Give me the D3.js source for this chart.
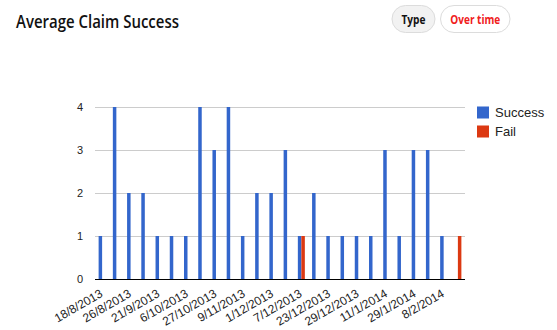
<!DOCTYPE html>
<html><head><meta charset="utf-8">
<script src="https://cdn.jsdelivr.net/npm/d3@7"></script>
<style>body{margin:0;background:#fff;}svg{display:block;}</style>
</head><body>
<svg id="c" width="557" height="330"></svg>
<script>
const categories = ["18/8/2013","22/8/2013","26/8/2013","15/9/2013","21/9/2013","29/9/2013","6/10/2013","20/10/2013","27/10/2013","3/11/2013","9/11/2013","24/11/2013","1/12/2013","4/12/2013","7/12/2013","15/12/2013","23/12/2013","27/12/2013","29/12/2013","5/1/2014","11/1/2014","19/1/2014","29/1/2014","2/2/2014","8/2/2014","16/2/2014"];
const successValues = [1,4,2,2,1,1,1,4,3,4,1,2,2,3,1,2,1,1,1,1,3,1,3,3,1,0];
const failValues    = [0,0,0,0,0,0,0,0,0,0,0,0,0,0,1,0,0,0,0,0,0,0,0,0,0,1];
const seriesNames = ["Success","Fail"];
const yTicks = [0,1,2,3,4];

const colors = ["#3366cc","#dc3912"];
const svg = d3.select("#c");

// title
svg.append("text").attr("x",16).attr("y",27.5)
  .attr("font-family","'Open Sans', sans-serif").attr("font-weight",600)
  .attr("font-size",17.5).attr("fill","#111")
  .attr("textLength",163).attr("lengthAdjust","spacingAndGlyphs")
  .text("Average Claim Success");

// buttons
function pill(x,y,w,h,label,fill,color,tl){
  svg.append("rect").attr("x",x).attr("y",y).attr("width",w).attr("height",h)
    .attr("rx",h/2).attr("fill",fill).attr("stroke","#dcdcdc");
  svg.append("text").attr("x",x+w/2-tl/2).attr("y",y+h/2+4.5)
    .attr("font-family","'Open Sans', sans-serif").attr("font-weight",700)
    .attr("font-size",13).attr("fill",color)
    .attr("textLength",tl).attr("lengthAdjust","spacingAndGlyphs").text(label);
}
pill(392,5.5,43,27,"Type","#f2f2f2","#111",24);
pill(440.5,5.5,69.5,27,"Over time","#fff","#f0201c",50);

const x0 = d3.scaleBand().domain(categories).range([95,465]);
const x1 = d3.scaleBand().domain(seriesNames).range([x0.bandwidth()/2-3.5, x0.bandwidth()/2+3.5]);
const y = d3.scaleLinear().domain([0,4]).range([279,107]);

// gridlines
svg.append("g").selectAll("line").data(yTicks.filter(d=>d>0)).join("line")
  .attr("x1",95).attr("x2",465).attr("y1",d=>y(d)+0.5).attr("y2",d=>y(d)+0.5)
  .attr("stroke","#cccccc");

// y labels
const yAxis = d3.axisLeft(y).tickValues(yTicks).tickSize(0).tickPadding(0).tickFormat(d3.format("d"));
const ga = svg.append("g").attr("transform","translate(83,0)").call(yAxis);
ga.select(".domain").remove();
ga.selectAll("text").attr("font-family","Arial, 'Liberation Sans', sans-serif").attr("font-size",11).attr("fill","#222");

// bars
const rows = categories.map((c,i)=>({c, vals:[successValues[i], failValues[i]]}));
const groups = svg.append("g").selectAll("g").data(rows).join("g")
  .attr("transform",d=>`translate(${x0(d.c)},0)`);
groups.selectAll("rect").data(d=>d.vals.map((v,j)=>({v,s:seriesNames[j],j}))).join("rect")
  .attr("x",d=>x1(d.s)).attr("width",x1.bandwidth())
  .attr("y",d=>y(d.v)).attr("height",d=>y(0)-y(d.v))
  .attr("fill",d=>colors[d.j]);

// baseline
svg.append("line").attr("x1",95).attr("x2",465).attr("y1",279.5).attr("y2",279.5).attr("stroke","#000");

// x labels
const xAxis = d3.axisBottom(x0).tickValues(categories.filter((d,i)=>i%2===0)).tickSize(0).tickPadding(0);
const gx = svg.append("g").attr("transform","translate(0,280)").call(xAxis);
gx.select(".domain").remove();
gx.selectAll("text")
  .attr("font-family","Arial, 'Liberation Sans', sans-serif").attr("font-size",12).attr("fill","#222")
  .attr("text-anchor","end").attr("dy",0)
  .attr("transform","translate(1.5,16) rotate(-30)");

// legend
const lg = svg.append("g").selectAll("g").data(seriesNames).join("g")
  .attr("transform",(d,i)=>`translate(477,${106.5+i*19})`);
lg.append("rect").attr("width",12).attr("height",12).attr("fill",(d,i)=>colors[i]);
lg.append("text").attr("x",18).attr("y",10.5).attr("font-family","Arial, 'Liberation Sans', sans-serif")
  .attr("font-size",13).attr("fill","#222").text(d=>d);
</script>
</body></html>
